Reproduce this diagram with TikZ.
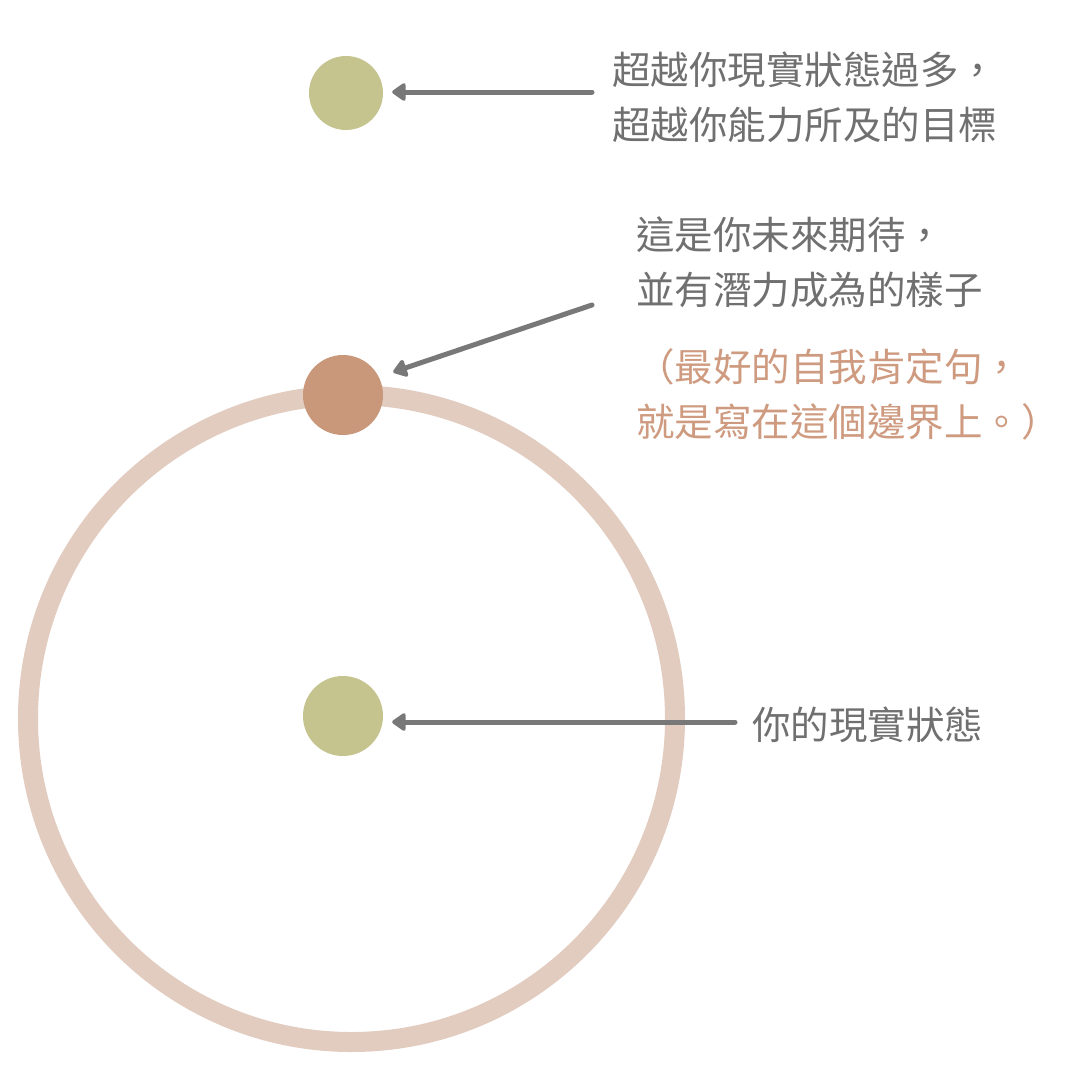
\documentclass[tikz,border=0pt]{standalone}
\usepackage{fontspec}
\newfontfamily\cjk{Noto Sans CJK TC}
\usetikzlibrary{calc}
\usetikzlibrary{arrows.meta}
\definecolor{dotgreen}{RGB}{197,196,143}
\definecolor{dotorange}{RGB}{201,152,123}
\definecolor{ringpink}{RGB}{226,204,192}
\definecolor{arrowgray}{RGB}{120,120,120}
\definecolor{textgray}{RGB}{112,112,112}
\definecolor{textorange}{RGB}{207,155,128}

\begin{document}
\begin{tikzpicture}[x=1pt,y=-1pt,
  dot/.style={circle,draw=none,inner sep=0pt,minimum size=#1},
  pointer/.style={draw=arrowgray,line width=5pt,line cap=round,-{Triangle[length=15pt,width=20pt,round]}},
  label/.style={draw=none,fill=none,anchor=west,align=left,inner sep=0pt,font=\cjk\fontsize{38.5pt}{55pt}\selectfont}]
  \path[fill=white] (0,0) rectangle (1080,1080);
  \useasboundingbox (0,0) rectangle (1080,1080);

  % Boundary of the present self
  \node[circle,draw=ringpink,line width=20pt,inner sep=0pt,minimum size=647pt] (boundary) at (351.5,718.5) {};

  % Dots
  \node[dot=74pt,fill=dotgreen] (goal) at (346,93) {};
  \node[dot=80pt,fill=dotorange] (future) at (343,395) {};
  \node[dot=80pt,fill=dotgreen] (current) at (343,716) {};

  % Texts
  \node[label,text=textgray] (goaltext) at (612,97) {超越你現實狀態過多，\\超越你能力所及的目標};
  \node[label,text=textgray] (futuretext) at (636,262) {這是你未來期待，\\並有潛力成為的樣子};
  \node[label,text=textorange] (affirm) at (636,394.5) {（最好的自我肯定句，\\就是寫在這個邊界上。）};
  \node[label,text=textgray] (currenttext) at (752,725) {你的現實狀態};

  % Arrows
  \coordinate (gtail) at ($(goaltext.west)+(-20,-5)$);
  \coordinate (ftail) at ($(futuretext.west)+(-44,43)$);
  \coordinate (ctail) at ($(currenttext.west)+(-17,-3)$);
  \draw[pointer,shorten >=9pt] (gtail) -- (goal.east |- gtail);
  \draw[pointer,shorten >=53pt] (ftail) -- ($(future.center)+(0,-6)$);
  \draw[pointer,shorten >=9pt] (ctail) -- (current.east |- ctail);
\end{tikzpicture}
\end{document}
